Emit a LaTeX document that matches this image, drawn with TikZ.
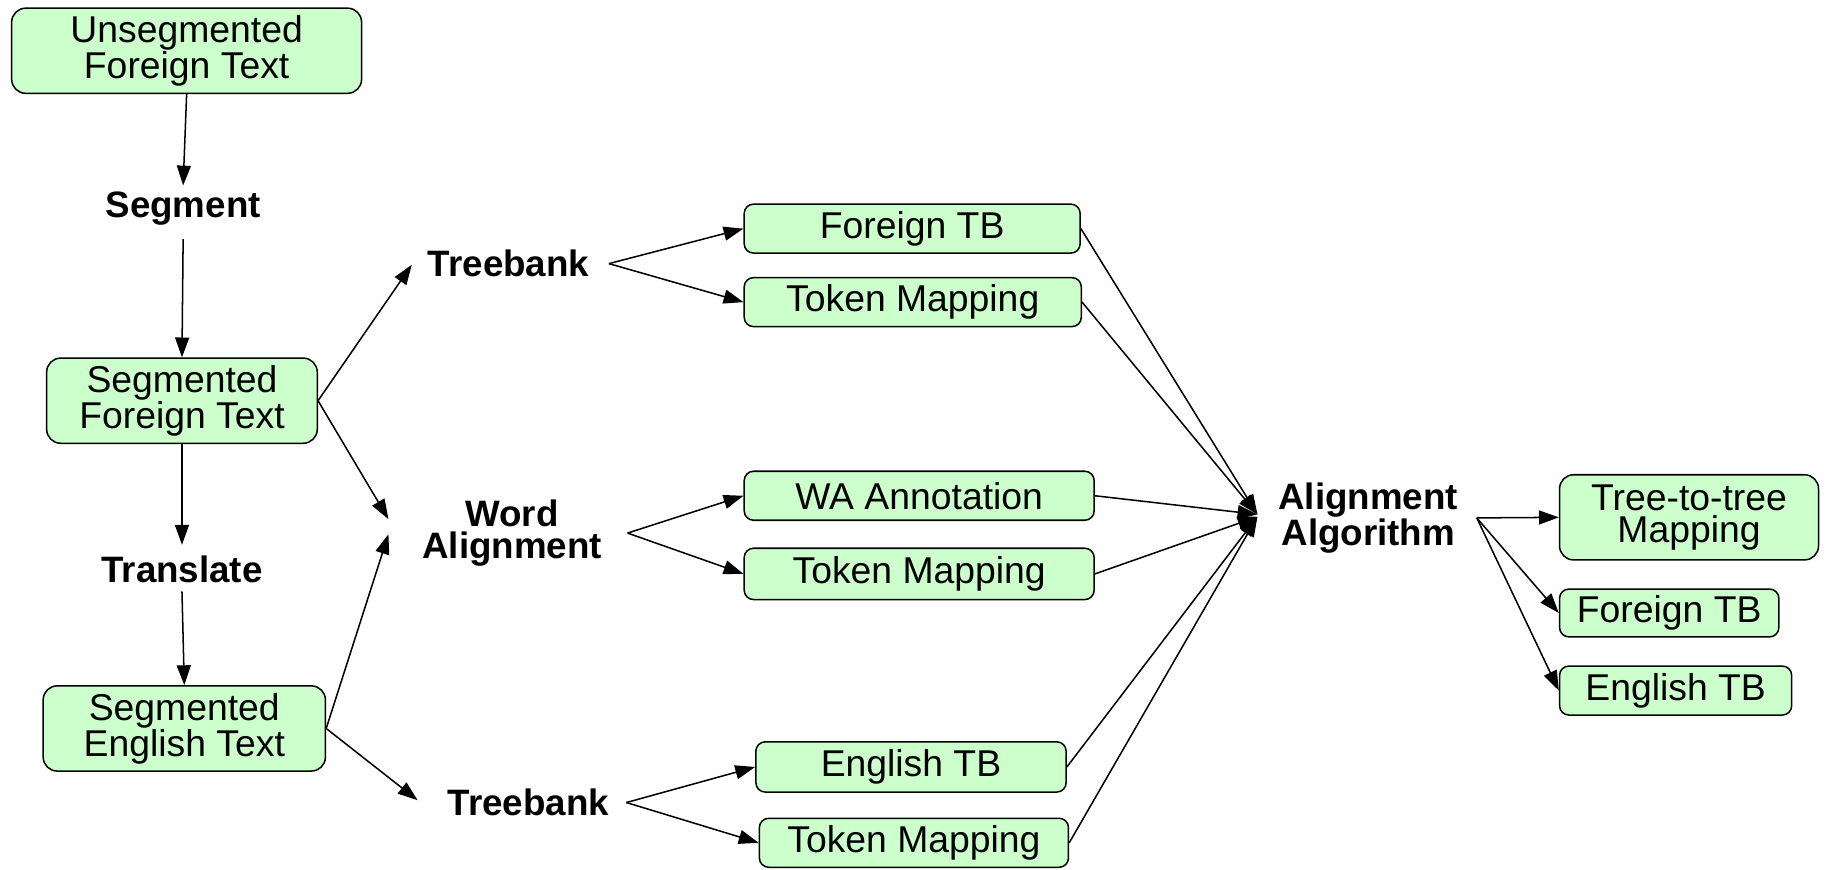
\documentclass[tikz,border=0pt]{standalone}
\usepackage{fontspec}
\setmainfont{Liberation Sans}
\usetikzlibrary{arrows.meta}
\definecolor{boxgreen}{HTML}{CCFFCC}
\begin{document}
\begin{tikzpicture}[x=1pt,y=-1pt,
  box/.style={draw=black, fill=boxgreen, rounded corners=8pt, line width=1.3pt,
    inner sep=0pt, align=center, font=\fontsize{32}{27.5}\selectfont},
  bigbox/.style={box, rounded corners=12pt},
  lbl/.style={inner sep=0pt, align=center, font=\fontsize{31.5}{27.5}\selectfont\bfseries},
  conn/.style={line width=1.3pt, -{Triangle[length=17pt,width=12pt]}}]
\useasboundingbox (0,0) rectangle (1568,745);

% text boxes
\node[bigbox, minimum width=300pt, minimum height=73pt] (usf) at (160,43.5) {Unsegmented\\Foreign Text};
\node[bigbox, minimum width=232pt, minimum height=73pt] (sft) at (156,343.5) {Segmented\\Foreign Text};
\node[bigbox, minimum width=242pt, minimum height=73pt] (set) at (158,624.5) {Segmented\\English Text};
\node[box, minimum width=288pt, minimum height=42pt] (ftb1) at (782,196) {Foreign TB};
\node[box, minimum width=289pt, minimum height=42pt] (tm1) at (782.5,259) {Token Mapping};
\node[box, minimum width=300pt, minimum height=42pt] (waa) at (788,425) {WA Annotation};
\node[box, minimum width=300pt, minimum height=44pt] (tm2) at (788,492) {Token Mapping};
\node[box, minimum width=266pt, minimum height=43pt] (etb1) at (781,657.5) {English TB};
\node[box, minimum width=265pt, minimum height=42pt] (tm3) at (783.5,722.5) {Token Mapping};
\node[bigbox, minimum width=222pt, minimum height=73pt] (t2t) at (1448,443.5) {Tree-to-tree\\Mapping};
\node[box, minimum width=188pt, minimum height=41pt] (ftb2) at (1431,525.5) {Foreign TB};
\node[box, minimum width=199pt, minimum height=42pt] (etb2) at (1436.5,592) {English TB};

% process labels
\node[lbl] (seg) at (157,179) {Segment};
\node[lbl] (trans) at (156,488) {Translate};
\node[lbl] (tb1) at (436,226) {Treebank};
\node[lbl] (wal) at (439,457) {Word\\Alignment};
\node[lbl] (tb2) at (453,688) {Treebank};
\node[lbl] (alg) at (1173,444) {Alignment\\Algorithm};

% connector end points beside the labels
\coordinate (segin) at (157,159);
\coordinate (segout) at (157,205);
\coordinate (transin) at (156,467);
\coordinate (transout) at (156,507);
\coordinate (tb1in) at (353,227);
\coordinate (tb1out) at (522,226);
\coordinate (wain1) at (333,445);
\coordinate (wain2) at (333,458);
\coordinate (waout) at (538,457);
\coordinate (tb2in) at (358,686);
\coordinate (tb2out) at (537,688);
\coordinate (algin1) at (1078,441);
\coordinate (algin2) at (1078,443);
\coordinate (algout) at (1266,444);

% vertical chain
\draw[conn] (usf.south) -- (segin);
\draw[conn] (segout) -- (sft.north);
\draw[conn] (sft.south) -- (transin);
\draw[conn] (transout) -- (set.north);

% fan out from the segmented texts
\draw[conn] (sft.east) -- (tb1in);
\draw[conn] (sft.east) -- (wain1);
\draw[conn] (set.east) -- (wain2);
\draw[conn] (set.east) -- (tb2in);

% label outputs
\draw[conn] (tb1out) -- (ftb1.west);
\draw[conn] (tb1out) -- (tm1.west);
\draw[conn] (waout) -- (waa.west);
\draw[conn] (waout) -- (tm2.west);
\draw[conn] (tb2out) -- (etb1.west);
\draw[conn] (tb2out) -- (tm3.west);

% into the alignment algorithm
\draw[conn] (ftb1.east) -- (algin1);
\draw[conn] (tm1.east) -- (algin1);
\draw[conn] (waa.east) -- (algin1);
\draw[conn] (tm2.east) -- (algin2);
\draw[conn] (etb1.east) -- (algin2);
\draw[conn] (tm3.east) -- (algin2);

% results
\draw[conn] (algout) -- (t2t.west);
\draw[conn] (algout) -- (ftb2.west);
\draw[conn] (algout) -- (etb2.west);
\end{tikzpicture}
\end{document}
